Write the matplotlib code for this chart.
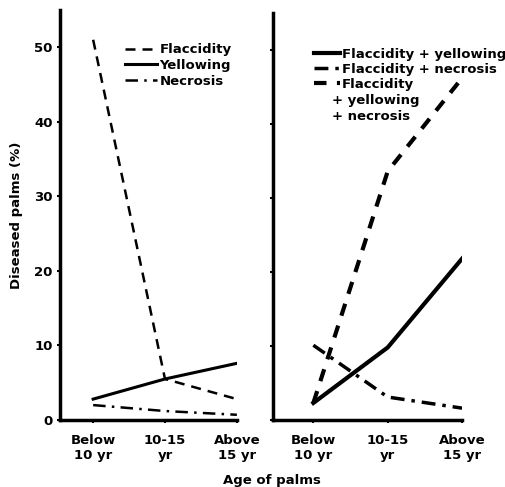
import numpy as np
import matplotlib
matplotlib.use("Agg")
import matplotlib.pyplot as plt

plt.rcParams['font.family'] = ['DejaVu Sans']
plt.rcParams['font.weight'] = 'bold'
plt.rcParams['axes.labelweight'] = 'bold'
plt.rcParams['font.size'] = 9.5

# age classes
ages = ["Below\n10 yr", "10-15\nyr", "Above\n15 yr"]
ticks_y = [0, 10, 20, 30, 40, 50]

# left panel - single symptoms
flaccidity = [51.0, 5.5, 2.8]
yellowing = [2.8, 5.5, 7.6]
necrosis = [2.0, 1.2, 0.7]

# right panel - combined symptoms
flac_yell = [2.3, 9.8, 21.8]
flac_necr = [10.1, 3.1, 1.6]
flac_yell_necr = [2.3, 33.6, 46.2]

x = np.arange(len(ages))

fig = plt.figure(figsize=(5.05, 4.87), dpi=100)
ax1 = fig.add_axes([0.119, 0.1376, 0.350, 0.842])
ax2 = fig.add_axes([0.541, 0.1376, 0.374, 0.836])

ax1.plot(x, flaccidity, color='black', lw=1.8, linestyle=(0, (4, 2.8)), label='Flaccidity')
ax1.plot(x, yellowing, color='black', lw=2.2, label='Yellowing')
ax1.plot(x, necrosis, color='black', lw=1.8, linestyle=(0, (5, 2.5, 1, 2.5)), label='Necrosis')

ax2.plot(x, flac_yell, color='black', lw=3, label='Flaccidity + yellowing')
ax2.plot(x, flac_necr, color='black', lw=2.5, linestyle=(0, (4, 2, 1, 2)), label='Flaccidity + necrosis')
ax2.plot(x, flac_yell_necr, color='black', lw=3, linestyle=(0, (3, 2.5)), label='Flaccidity')

for ax, lo in [(ax1, -0.46), (ax2, -0.54)]:
    ax.set_xlim(lo, 2.0)
    ax.set_ylim(0, 55)
    ax.set_xticks(x)
    ax.set_xticklabels(ages)
    ax.set_yticks(ticks_y)
    ax.spines['top'].set_visible(False)
    ax.spines['right'].set_visible(False)
    ax.spines['left'].set_linewidth(2.5)
    ax.spines['bottom'].set_linewidth(2.5)
    ax.tick_params(axis='both', length=2, width=1.5, direction='out')
    ax.tick_params(axis='x', pad=8)

ax2.set_yticklabels([])
ax1.set_ylabel('Diseased palms (%)', labelpad=8)

ax1.legend(loc='upper left', bbox_to_anchor=(0.33, 0.935), frameon=False,
           borderpad=0, labelspacing=0.22, handlelength=2.4, handletextpad=0.2)
ax2.legend(loc='upper left', bbox_to_anchor=(0.18, 0.93), frameon=False,
           borderpad=0, labelspacing=0.15, handlelength=2.0, handletextpad=0.1)
# rest of the third legend label, on its own lines
ax2.text(0.31, 0.80, '+ yellowing\n+ necrosis', transform=ax2.transAxes,
         ha='left', va='top', linespacing=1.25)

fig.text(0.538, 0.014, 'Age of palms', ha='center', va='center')

plt.savefig('out.png', dpi=100)
plt.close()
